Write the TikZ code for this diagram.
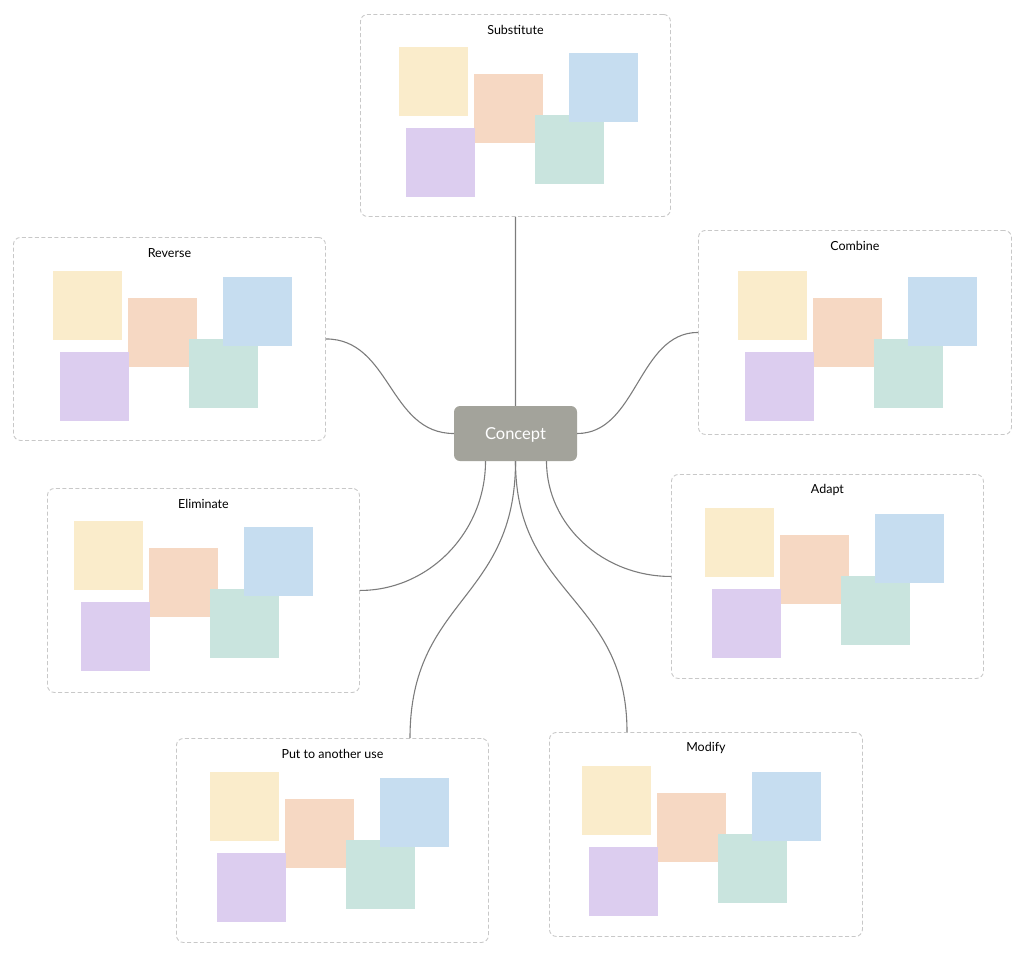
\documentclass[tikz,border=0pt]{standalone}
\usepackage{fontspec}
\setmainfont{Lato}
\usepackage{xcolor}
\usepackage{tikz}
\usetikzlibrary{positioning}

\definecolor{noteyellow}{HTML}{FAECCB}
\definecolor{notepeach}{HTML}{F6D8C3}
\definecolor{noteblue}{HTML}{C6DDF0}
\definecolor{notelilac}{HTML}{DCCDEF}
\definecolor{notemint}{HTML}{C9E4DE}
\definecolor{framegray}{HTML}{C8C8C8}
\definecolor{coregray}{HTML}{A3A39B}
\definecolor{linkgray}{HTML}{7C7C7C}

\begin{document}
\begin{tikzpicture}[x=1pt, y=-1pt,
    group/.style={rectangle, draw=framegray, dash pattern=on 4pt off 2.5pt, line width=0.9pt, rounded corners=7pt, anchor=north west, inner sep=0pt},
    note/.style={rectangle, anchor=north west, minimum size=69pt, inner sep=0pt},
    heading/.style={font=\fontsize{12.5}{15}\selectfont, text=black},
    core/.style={rectangle, fill=coregray, rounded corners=6pt, minimum width=123pt, minimum height=55pt, text=white, text depth=0pt, font=\fontsize{16.5}{19}\selectfont},
    link/.style={draw=linkgray, line width=1.1pt}
  ]
    \useasboundingbox (0,0) rectangle (1024,956);

    \foreach \id/\bx/\by/\bw/\bh/\yx/\yy/\txt in {
        subst/360/14/310/202/399/47/Substitute,
        reverse/13/237/312/203/53/271/Reverse,
        combine/698/230/313/204/738/271/Combine,
        elim/47/488/312/204/74/521/Eliminate,
        adapt/671/474/312/204/705/508/Adapt,
        other/176/738/312/204/210/772/Put to another use,
        modify/549/732/313/204/582/766/Modify} {
      \node (\id) [group, minimum width=\bw*1pt, minimum height=\bh*1pt] at (\bx,\by) {};
      \node (\id-title) [heading] at ([yshift=-16pt]\id.north) {\txt};
      \node (\id-y) [note, fill=noteyellow] at (\yx,\yy) {};
      \node (\id-o) [note, fill=notepeach] at ([xshift=75pt, yshift=-27pt]\id-y.north west) {};
      \node (\id-p) [note, fill=notelilac] at ([xshift=7pt, yshift=-81pt]\id-y.north west) {};
      \node (\id-g) [note, fill=notemint] at ([xshift=136pt, yshift=-68pt]\id-y.north west) {};
      \node (\id-b) [note, fill=noteblue] at ([xshift=170pt, yshift=-6pt]\id-y.north west) {};
    }

    \node (concept) [core] at (515.5,433.5) {Concept};

    \draw [link] (concept.north) -- (subst.south);
    \draw [link] (concept.west) .. controls +(-65,0) and +(65,0) .. (reverse.east);
    \draw [link] (concept.east) .. controls +(60,0) and +(-60,0) .. (combine.west);
    \draw [link] ([xshift=-30pt]concept.south) .. controls +(0,71) and +(69,0) .. (elim.east);
    \draw [link] ([xshift=31pt]concept.south) .. controls +(0,64) and +(-68,0) .. (adapt.west);
    \draw [link] (concept.south) .. controls +(0,140) and +(0,-140) .. ([xshift=234pt]other.north west);
    \draw [link] (concept.south) .. controls +(0,135) and +(0,-135) .. ([xshift=78pt]modify.north west);

  \end{tikzpicture}
\end{document}
